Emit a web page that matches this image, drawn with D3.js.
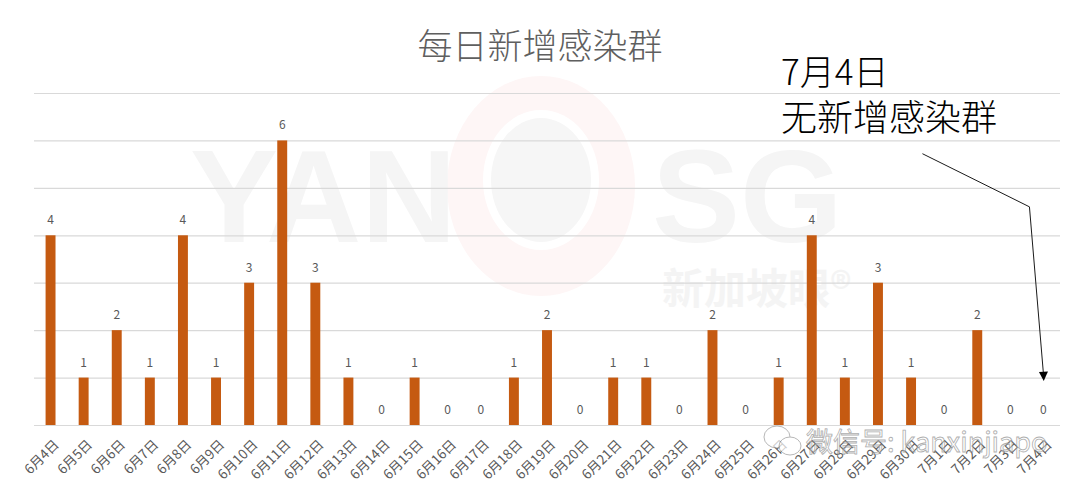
<!DOCTYPE html>
<html>
<head>
<meta charset="utf-8">
<script src="https://cdn.jsdelivr.net/npm/d3@7"></script>
<style>
  html, body { margin: 0; padding: 0; background: #ffffff; }
  svg { display: block; }
</style>
</head>
<body>
<svg id="chart" width="1080" height="490"></svg>
<script>
const categories = ["6月4日","6月5日","6月6日","6月7日","6月8日","6月9日","6月10日","6月11日","6月12日","6月13日","6月14日","6月15日","6月16日","6月17日","6月18日","6月19日","6月20日","6月21日","6月22日","6月23日","6月24日","6月25日","6月26日","6月27日","6月28日","6月29日","6月30日","7月1日","7月2日","7月3日","7月4日"];
const values = [4,1,2,1,4,1,3,6,3,1,0,1,0,0,1,2,0,1,1,0,2,0,1,4,1,3,1,0,2,0,0];
const yTicks = [0,1,2,3,4,5,6,7];
const titleText = "每日新增感染群";
const noteLines = ["7月4日","无新增感染群"];
const noteCategory = "7月4日";

const svg = d3.select("#chart");
const font = "'Noto Sans CJK SC', 'Noto Sans', sans-serif";

const x = d3.scaleBand().domain(categories).range([34, 1060]).paddingInner(0.7).paddingOuter(0.35);
const y = d3.scaleLinear().domain([0, 7]).range([425, 93]);

// faint watermark
const wm = svg.append("g").attr("pointer-events", "none");
wm.append("ellipse").attr("cx", 541).attr("cy", 186).attr("rx", 94).attr("ry", 110).attr("fill", "#fef6f6");
wm.append("ellipse").attr("cx", 541).attr("cy", 180).attr("rx", 58).attr("ry", 70).attr("fill", "#ffffff");
wm.append("ellipse").attr("cx", 541).attr("cy", 180).attr("rx", 50).attr("ry", 62).attr("fill", "#f6f6f6");
wm.append("text").attr("x", 190).attr("y", 242).attr("font-family", "'Liberation Sans', sans-serif").attr("font-weight", "bold").attr("font-size", 132).attr("fill", "#f5f5f5").text("YAN");
wm.append("text").attr("x", 652).attr("y", 242).attr("font-family", "'Liberation Sans', sans-serif").attr("font-weight", "bold").attr("font-size", 132).attr("fill", "#f5f5f5").text("SG");
wm.append("text").attr("x", 662).attr("y", 304).attr("font-family", font).attr("font-weight", "bold").attr("font-size", 42).attr("fill", "#f4f4f4").text("新加坡眼®");

// gridlines
svg.append("g").selectAll("line").data(yTicks).join("line")
  .attr("x1", 34).attr("x2", 1060)
  .attr("y1", d => y(d) + 0.5).attr("y2", d => y(d) + 0.5)
  .attr("stroke", "#d9d9d9").attr("stroke-width", 1.2);

// bars
svg.append("g").selectAll("rect").data(values).join("rect")
  .attr("x", (d, i) => x(categories[i]))
  .attr("y", d => y(d))
  .attr("width", x.bandwidth())
  .attr("height", d => y(0) - y(d))
  .attr("fill", "#c55a11");

// value labels
svg.append("g").selectAll("text").data(values).join("text")
  .attr("x", (d, i) => x(categories[i]) + x.bandwidth() / 2)
  .attr("y", d => y(d) - 11)
  .attr("text-anchor", "middle")
  .attr("font-family", font)
  .attr("font-size", 12)
  .attr("fill", "#595959")
  .text(d => d);

// x axis labels
svg.append("g").selectAll("text").data(categories).join("text")
  .attr("transform", d => `translate(${x(d) + x.bandwidth() / 2 + 6},${442}) rotate(-45)`)
  .attr("text-anchor", "end")
  .attr("dy", "0.35em")
  .attr("font-family", font)
  .attr("font-size", 13.5)
  .attr("fill", "#595959")
  .text(d => d);

// title
svg.append("text")
  .attr("x", 540).attr("y", 59)
  .attr("text-anchor", "middle")
  .attr("font-family", font)
  .attr("font-weight", 300)
  .attr("font-size", 35)
  .attr("fill", "#5f5f5f")
  .text(titleText);

// annotation
const note = svg.append("g");
note.selectAll("text").data(noteLines).join("text")
  .attr("x", 781)
  .attr("y", (d, i) => 85 + i * 46)
  .attr("font-family", font)
  .attr("font-weight", 300)
  .attr("font-size", (d, i) => i === 0 ? 35 : 36)
  .attr("fill", "#000000")
  .text(d => d);

const cx = x(noteCategory) + x.bandwidth() / 2;
const tipY = y(0.95);
const pts = [[cx - 121, y(5.72)], [cx - 14, y(4.6)], [cx, tipY - 6]];
note.append("path")
  .attr("d", d3.line()(pts))
  .attr("fill", "none")
  .attr("stroke", "#1a1a1a")
  .attr("stroke-width", 1);
note.append("path")
  .attr("d", `M${cx - 4.5},${tipY - 8} L${cx + 4.5},${tipY - 8.5} L${cx + 0.3},${tipY + 1} Z`)
  .attr("fill", "#000000");

// wechat watermark
const wx = svg.append("g").attr("pointer-events", "none").attr("opacity", 0.7);
wx.append("ellipse").attr("cx", 777).attr("cy", 437).attr("rx", 13).attr("ry", 11).attr("fill", "#ffffff").attr("stroke", "#9a9a9a").attr("stroke-width", 1);
wx.append("ellipse").attr("cx", 790).attr("cy", 446).attr("rx", 11).attr("ry", 9).attr("fill", "#ffffff").attr("stroke", "#9a9a9a").attr("stroke-width", 1);
wx.append("text").attr("x", 806).attr("y", 452)
  .attr("font-family", font).attr("font-size", 27)
  .attr("fill", "#ffffff").attr("fill-opacity", 0.6).attr("stroke", "#8c8c8c").attr("stroke-width", 0.8)
  .text("微信号: kanxinjiapo");
</script>
</body>
</html>
